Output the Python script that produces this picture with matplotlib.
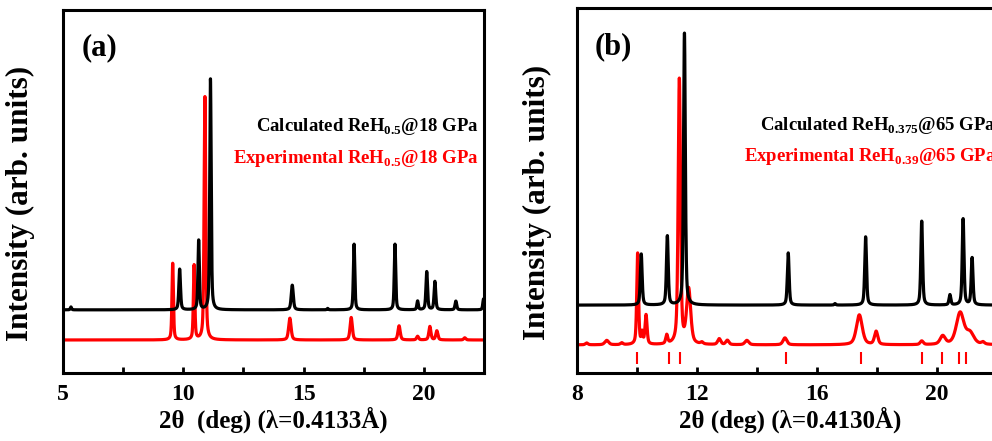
import numpy as np
import matplotlib
matplotlib.use("Agg")
import matplotlib.pyplot as plt

plt.rcParams["font.family"] = ["Liberation Serif", "DejaVu Serif"]
plt.rcParams["font.weight"] = "bold"
plt.rcParams["mathtext.fontset"] = "custom"
plt.rcParams["mathtext.rm"] = "Liberation Serif:bold"
plt.rcParams["mathtext.bf"] = "Liberation Serif:bold"

# ---- panel (a): ReH0.5 @ 18 GPa, peak list ----
calc_a_base = 0.174
calc_a_pos = [5.33, 9.85, 10.64, 11.13, 14.53, 16.0, 17.1, 18.8, 19.74, 20.12, 20.46, 21.33, 22.48]
calc_a_hgt = [0.008, 0.112, 0.191, 0.636, 0.068, 0.004, 0.181, 0.181, 0.024, 0.105, 0.078, 0.024, 0.03]
calc_a_wid = [0.06, 0.08, 0.07, 0.07, 0.1, 0.06, 0.07, 0.07, 0.07, 0.08, 0.08, 0.08, 0.07]

exp_a_base = 0.091
exp_a_pos = [9.56, 10.45, 10.9, 14.43, 16.98, 18.97, 19.74, 20.25, 20.54, 21.7]
exp_a_hgt = [0.211, 0.205, 0.67, 0.06, 0.062, 0.039, 0.01, 0.037, 0.025, 0.006]
exp_a_wid = [0.07, 0.07, 0.08, 0.12, 0.11, 0.11, 0.1, 0.1, 0.1, 0.1]

# ---- panel (b): ReH0.375 / ReH0.39 @ 65 GPa ----
calc_b_base = 0.186
calc_b_pos = [10.14, 11.01, 11.58, 15.04, 16.6, 17.62, 19.49, 20.43, 20.87, 21.17]
calc_b_hgt = [0.14, 0.189, 0.745, 0.143, 0.004, 0.187, 0.23, 0.028, 0.236, 0.129]
calc_b_wid = [0.07, 0.07, 0.07, 0.07, 0.06, 0.07, 0.07, 0.07, 0.07, 0.07]

exp_b_base = 0.077
exp_b_pos = [8.32, 8.99, 9.49, 10.02, 10.17, 10.3, 10.99, 11.41, 11.72, 12.16, 12.74,
             13.01, 13.66, 14.93, 17.41, 17.97, 19.49, 20.19, 20.77, 21.1, 21.53]
exp_b_hgt = [0.005, 0.012, 0.005, 0.25, 0.03, 0.08, 0.024, 0.726, 0.15, 0.005, 0.016,
             0.012, 0.012, 0.019, 0.082, 0.036, 0.01, 0.023, 0.087, 0.03, 0.006]
exp_b_wid = [0.1, 0.15, 0.1, 0.07, 0.06, 0.08, 0.08, 0.09, 0.16, 0.1, 0.12,
             0.12, 0.15, 0.15, 0.23, 0.13, 0.12, 0.2, 0.3, 0.3, 0.12]

ticks_b = [9.99, 11.08, 11.44, 14.97, 17.46, 19.49, 20.18, 20.73, 20.96]


def pattern(x, base, pos, hgt, wid):
    y = np.full_like(x, base)
    for p, h, w in zip(pos, hgt, wid):
        d = (x - p) / w
        y += h * (0.5 * np.exp(-4 * np.log(2) * d ** 2) + 0.5 / (1 + 4 * d ** 2))
    return y


def style(ax, xlim, major, minor):
    ax.set_xlim(*xlim)
    ax.set_ylim(0, 1)
    ax.set_yticks([])
    ax.set_xticks(np.arange(xlim[0], xlim[1] + 0.01, major))
    ax.set_xticks(np.arange(xlim[0], xlim[1] + 0.01, minor), minor=True)
    ax.tick_params(axis="x", which="both", direction="in", width=2, length=4,
                   labelsize=17, pad=8)
    for s in ax.spines.values():
        s.set_linewidth(2.2)
    ax.set_ylabel("Intensity (arb. units)", fontsize=22.5, fontweight="bold")


fig = plt.figure(figsize=(9.92, 4.41), dpi=100)

# panel (a)
ax1 = fig.add_axes([0.0635, 0.1542, 0.4244, 0.823])
xa = np.linspace(5, 22.5, 8000)
ax1.plot(xa, pattern(xa, exp_a_base, exp_a_pos, exp_a_hgt, exp_a_wid), color="red", lw=2.3)
ax1.plot(xa, pattern(xa, calc_a_base, calc_a_pos, calc_a_hgt, calc_a_wid), color="black", lw=2.3)
style(ax1, (5, 22.5), 5, 2.5)
ax1.set_xticks([5, 10, 15, 20])
ax1.yaxis.set_label_coords(-0.0665, 0.468)
ax1.set_xlabel("2\u03b8  (deg) (\u03bb=0.4133\u00c5)", fontsize=18, fontweight="bold", labelpad=1)
ax1.text(0.045, 0.895, "(a)", transform=ax1.transAxes, fontsize=22, fontweight="bold", va="center")
ax1.text(0.988, 0.678, r"Calculated ReH$_{\mathbf{0.5}}$@18 GPa", transform=ax1.transAxes,
         fontsize=13.5, fontweight="bold", ha="right", va="center", color="black")
ax1.text(0.988, 0.592, r"Experimental ReH$_{\mathbf{0.5}}$@18 GPa", transform=ax1.transAxes,
         fontsize=13.5, fontweight="bold", ha="right", va="center", color="red")

# panel (b) - runs past the right edge of the picture, as in the source
ax2 = fig.add_axes([0.5817, 0.1542, 0.4294, 0.8277])
xb = np.linspace(8, 22.2, 8000)
ax2.plot(xb, pattern(xb, exp_b_base, exp_b_pos, exp_b_hgt, exp_b_wid), color="red", lw=2.3)
ax2.plot(xb, pattern(xb, calc_b_base, calc_b_pos, calc_b_hgt, calc_b_wid), color="black", lw=2.3)
ax2.vlines(ticks_b, 0.025, 0.058, color="red", lw=1.5)
style(ax2, (8, 22.2), 4, 2)
ax2.set_xticks([8, 12, 16, 20])
ax2.yaxis.set_label_coords(-0.0587, 0.466)
ax2.set_xlabel("2\u03b8 (deg) (\u03bb=0.4130\u00c5)", fontsize=18, fontweight="bold", labelpad=1)
ax2.text(0.042, 0.893, "(b)", transform=ax2.transAxes, fontsize=22, fontweight="bold", va="center")
ax2.text(0.984, 0.678, r"Calculated ReH$_{\mathbf{0.375}}$@65 GPa", transform=ax2.transAxes,
         fontsize=13.5, fontweight="bold", ha="right", va="center", color="black")
ax2.text(0.984, 0.592, r"Experimental ReH$_{\mathbf{0.39}}$@65 GPa", transform=ax2.transAxes,
         fontsize=13.5, fontweight="bold", ha="right", va="center", color="red")

fig.savefig("out.png", dpi=100)
